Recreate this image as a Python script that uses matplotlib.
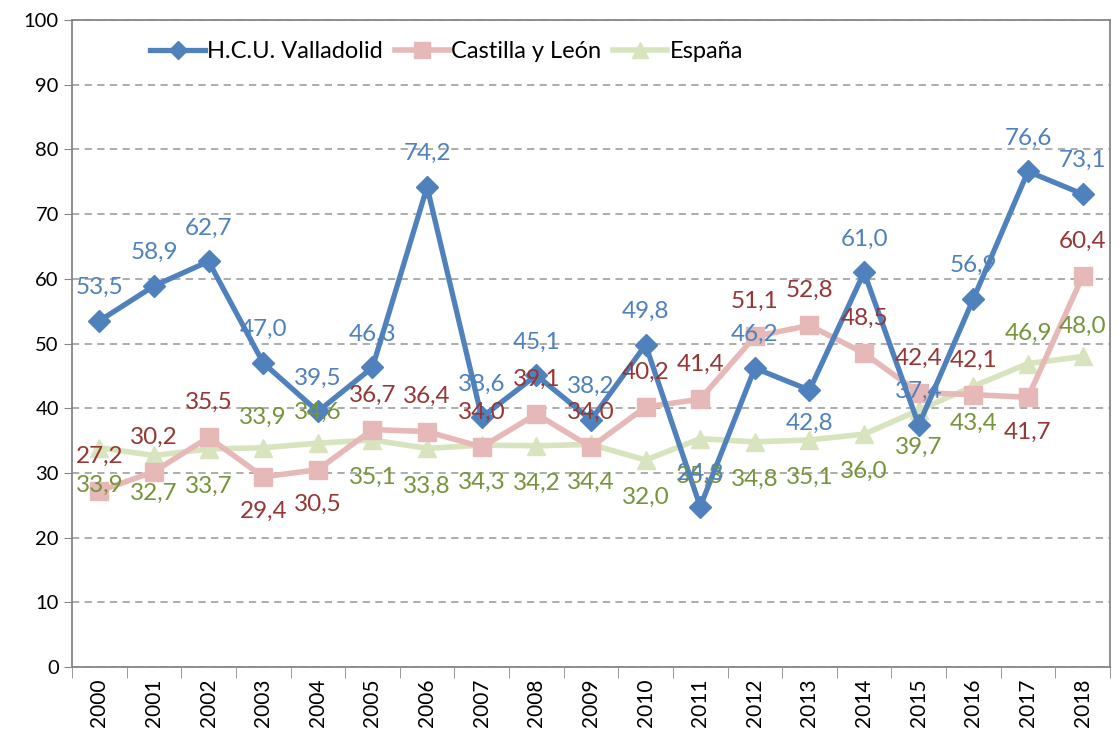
import matplotlib
matplotlib.use("Agg")
import matplotlib.pyplot as plt
from matplotlib.ticker import MultipleLocator, FixedLocator

years = [str(y) for y in range(2000, 2019)]
valladolid = [53.5, 58.9, 62.7, 47.0, 39.5, 46.3, 74.2, 38.6, 45.1, 38.2, 49.8, 24.8, 46.2, 42.8, 61.0, 37.4, 56.9, 76.6, 73.1]
castilla = [27.2, 30.2, 35.5, 29.4, 30.5, 36.7, 36.4, 34.0, 39.1, 34.0, 40.2, 41.4, 51.1, 52.8, 48.5, 42.4, 42.1, 41.7, 60.4]
espana = [33.9, 32.7, 33.7, 33.9, 34.6, 35.1, 33.8, 34.3, 34.2, 34.4, 32.0, 35.3, 34.8, 35.1, 36.0, 39.7, 43.4, 46.9, 48.0]

# label placement: +1 above, -1 below
vall_pos = [1]*19
vall_pos[13] = -1
cyl_pos = [1]*19
for i in (3, 4, 17):
    cyl_pos[i] = -1
esp_pos = [-1]*19
for i in (3, 4, 17, 18):
    esp_pos[i] = 1

plt.rcParams['font.family'] = ['Lato', 'DejaVu Sans']

fig = plt.figure(figsize=(11.2, 7.42), dpi=100)
ax = fig.add_axes([0.0643, 0.101, 0.9267, 0.872])

x = list(range(len(years)))
ax.plot(x, espana, color='#D7E4BD', lw=4, marker='^', ms=13, zorder=2, label='España')
ax.plot(x, castilla, color='#E6B9B8', lw=4, marker='s', ms=13, zorder=3, label='Castilla y León')
ax.plot(x, valladolid, color='#4F81BD', lw=3.8, marker='D', ms=11, zorder=4, label='H.C.U. Valladolid')

def fmt(v):
    return f"{v:.1f}".replace('.', ',')

def labels(vals, pos, color, up, down):
    for i, (v, p) in enumerate(zip(vals, pos)):
        off = up if p > 0 else -down
        ax.annotate(fmt(v), (i, v), xytext=(0, off), textcoords='offset points',
                    ha='center', va='center', color=color, fontsize=17.5, zorder=6)

labels(espana, esp_pos, '#77933C', 22, 27)
labels(castilla, cyl_pos, '#953735', 25, 25)
labels(valladolid, vall_pos, '#4F81BD', 24, 24)

ax.set_xlim(-0.5, 18.5)
ax.set_ylim(0, 100)
ax.yaxis.set_major_locator(MultipleLocator(10))
ax.set_xticks(x)
ax.set_xticklabels(years, rotation=90, fontsize=15)
ax.tick_params(axis='x', which='major', length=0, pad=8)
ax.xaxis.set_minor_locator(FixedLocator([i - 0.5 for i in range(20)]))
ax.tick_params(axis='x', which='minor', length=8, color='#868686')
ax.tick_params(axis='y', labelsize=14.5, length=6, color='#868686')
ax.grid(axis='y', color='#A6A6A6', ls=(0, (4, 3)), lw=1.3)
ax.set_axisbelow(True)
for s in ax.spines.values():
    s.set_color('#868686')
    s.set_linewidth(1.3)

h, l = ax.get_legend_handles_labels()
order = [2, 1, 0]
ax.legend([h[i] for i in order], [l[i] for i in order], loc='upper left', bbox_to_anchor=(0.055, 1.0),
          ncol=3, frameon=False, fontsize=17, handlelength=2.3, columnspacing=0.5,
          handletextpad=0.1, markerscale=0.85)

fig.savefig('out.png', dpi=100)
